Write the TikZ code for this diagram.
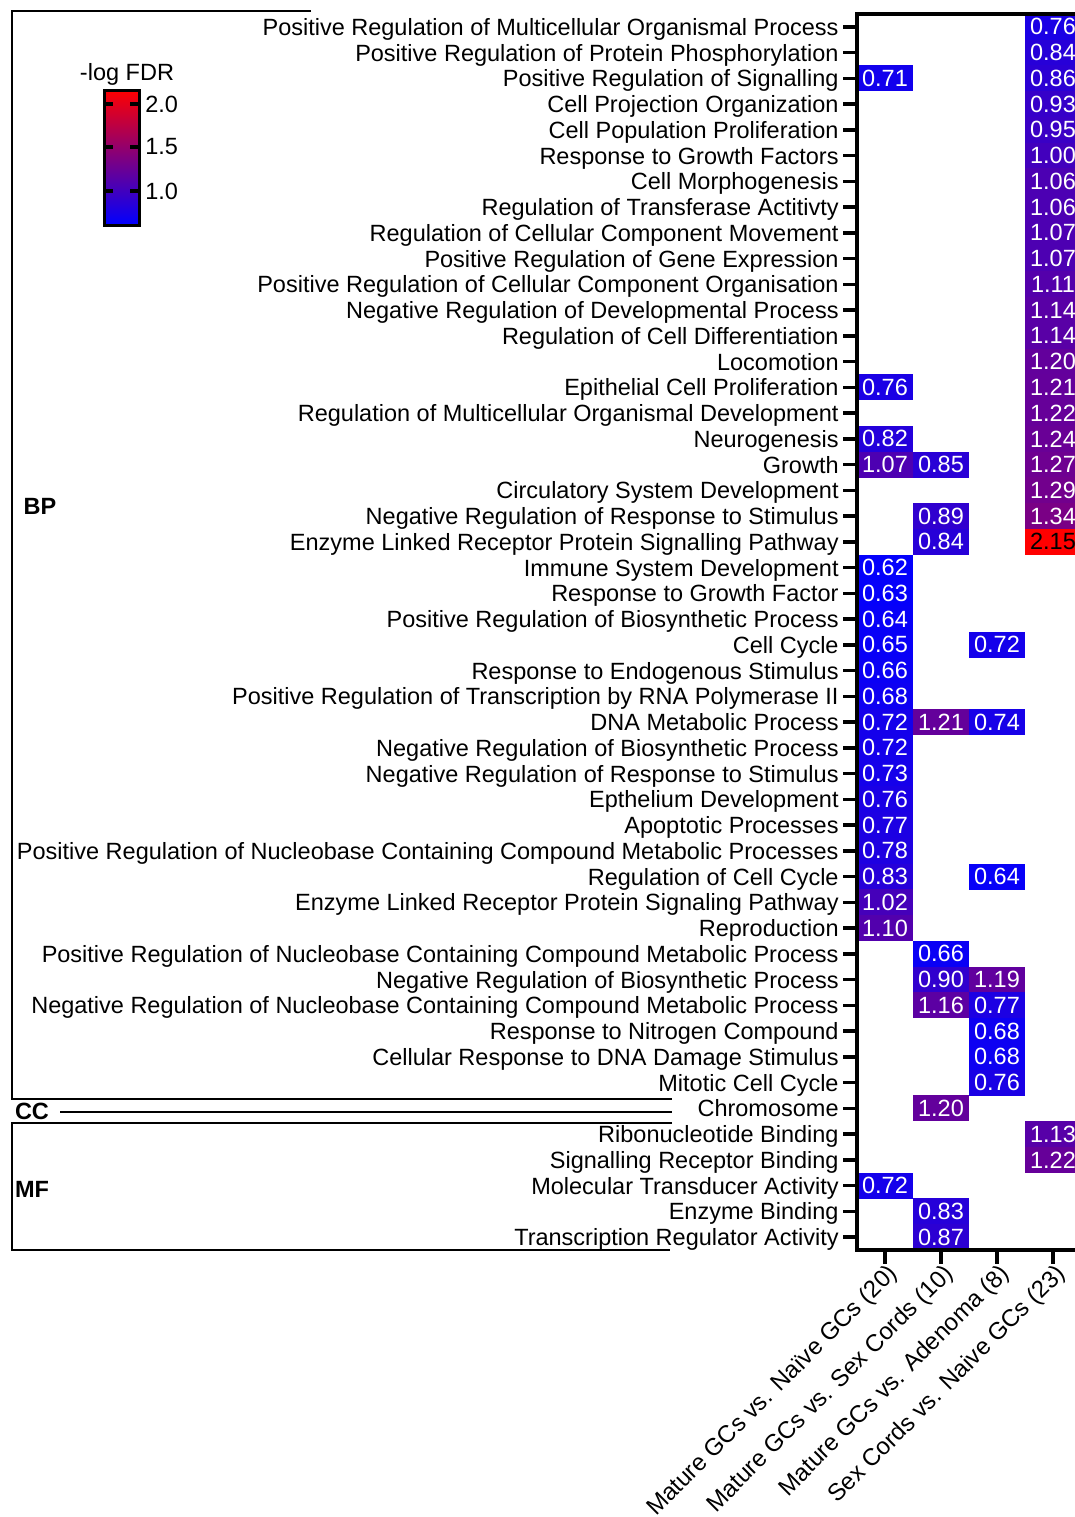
\documentclass[tikz,border=0pt]{standalone}
\usepackage{fontspec}
\setmainfont{Liberation Sans}

\tikzset{
  axisline/.style={line width=2pt},
  tickmark/.style={line width=1.8pt},
  bracket/.style={line width=1.4pt},
  rowlab/.style={anchor=base east, inner sep=0pt, font=\fontsize{11.75}{13}\selectfont},
  cell/.style={minimum width=28pt, minimum height=13.1pt, inner sep=0pt, font=\fontsize{11.75}{13}\selectfont},
  collab/.style={rotate=45, anchor=north east, inner sep=0pt, font=\fontsize{12}{13}\selectfont},
  grplab/.style={inner sep=0pt, font=\fontsize{11.75}{13}\selectfont\bfseries},
  leglab/.style={inner sep=0pt, font=\fontsize{11.75}{13}\selectfont}
}

\begin{document}
\begin{tikzpicture}[x=0.5pt, y=-0.5pt]
  \clip (0,0) rectangle (1075,1517);

  % Zeilenbeschriftungen mit Strichen
  \foreach \lab [count=\i] in {
      Positive Regulation of Multicellular Organismal Process,
      Positive Regulation of Protein Phosphorylation,
      Positive Regulation of Signalling,
      Cell Projection Organization,
      Cell Population Proliferation,
      Response to Growth Factors,
      Cell Morphogenesis,
      Regulation of Transferase Actitivty,
      Regulation of Cellular Component Movement,
      Positive Regulation of Gene Expression,
      Positive Regulation of Cellular Component Organisation,
      Negative Regulation of Developmental Process,
      Regulation of Cell Differentiation,
      Locomotion,
      Epithelial Cell Proliferation,
      Regulation of Multicellular Organismal Development,
      Neurogenesis,
      Growth,
      Circulatory System Development,
      Negative Regulation of Response to Stimulus,
      Enzyme Linked Receptor Protein Signalling Pathway,
      Immune System Development,
      Response to Growth Factor,
      Positive Regulation of Biosynthetic Process,
      Cell Cycle,
      Response to Endogenous Stimulus,
      Positive Regulation of Transcription by RNA Polymerase II,
      DNA Metabolic Process,
      Negative Regulation of Biosynthetic Process,
      Negative Regulation of Response to Stimulus,
      Epthelium Development,
      Apoptotic Processes,
      Positive Regulation of Nucleobase Containing Compound Metabolic Processes,
      Regulation of Cell Cycle,
      Enzyme Linked Receptor Protein Signaling Pathway,
      Reproduction,
      Positive Regulation of Nucleobase Containing Compound Metabolic Process,
      Negative Regulation of Biosynthetic Process,
      Negative Regulation of Nucleobase Containing Compound Metabolic Process,
      Response to Nitrogen Compound,
      Cellular Response to DNA Damage Stimulus,
      Mitotic Cell Cycle,
      Chromosome,
      Ribonucleotide Binding,
      Signalling Receptor Binding,
      Molecular Transducer Activity,
      Enzyme Binding,
      Transcription Regulator Activity}
  {
    \node[rowlab] (r\i) at (839,{14+(\i-0.5)*25.75+8.5}) {\lab};
    \draw[tickmark] (843,{14+(\i-0.5)*25.75}) -- (857,{14+(\i-0.5)*25.75});
  }

  % Zellen der Heatmap (Zeile/Spalte/Wert)
  \foreach \r/\c/\v in {1/4/0.76, 2/4/0.84, 3/1/0.71, 3/4/0.86, 4/4/0.93,
      5/4/0.95, 6/4/1.00, 7/4/1.06, 8/4/1.06, 9/4/1.07, 10/4/1.07,
      11/4/1.11, 12/4/1.14, 13/4/1.14, 14/4/1.20, 15/1/0.76, 15/4/1.21,
      16/4/1.22, 17/1/0.82, 17/4/1.24, 18/1/1.07, 18/2/0.85, 18/4/1.27,
      19/4/1.29, 20/2/0.89, 20/4/1.34, 21/2/0.84, 21/4/2.15,
      22/1/0.62, 23/1/0.63, 24/1/0.64, 25/1/0.65, 25/3/0.72, 26/1/0.66,
      27/1/0.68, 28/1/0.72, 28/2/1.21, 28/3/0.74, 29/1/0.72, 30/1/0.73,
      31/1/0.76, 32/1/0.77, 33/1/0.78, 34/1/0.83, 34/3/0.64, 35/1/1.02,
      36/1/1.10, 37/2/0.66, 38/2/0.90, 38/3/1.19, 39/2/1.16, 39/3/0.77,
      40/3/0.68, 41/3/0.68, 42/3/0.76, 43/2/1.20, 44/4/1.13, 45/4/1.22,
      46/1/0.72, 47/2/0.83, 48/2/0.87}
  {
    \pgfmathsetmacro\mix{(\v-0.6)/1.55*100}
    \pgfmathtruncatemacro\hot{\v>1.9}
    \ifnum\hot=1 \def\tcol{black}\else\def\tcol{white}\fi
    \node[cell, fill=red!\mix!blue, text=\tcol] (v\r-\c)
      at ({885+(\c-1)*56},{14+(\r-0.5)*25.75}) {\v};
  }

  % Achsen
  \draw[axisline] (1075,14) -- (857,14) -- (857,1250) -- (1075,1250);
  \foreach \c in {1,...,4}
    \draw[tickmark, line width=2pt] ({885+(\c-1)*56},1250) -- ({885+(\c-1)*56},1264);

  % Spaltenbeschriftungen
  \foreach \lab [count=\c] in {Mature GCs vs. Naïve GCs (20), Mature GCs vs. Sex Cords (10),
      Mature GCs vs. Adenoma (8), Sex Cords vs. Naive GCs (23)}
    \node[collab] (k\c) at ({886+(\c-1)*56},1262) {\lab};

  % Gruppenklammern BP, CC, MF
  \draw[bracket] (311,11) -- (12,11) -- (12,1099) -- (672,1099);
  \draw[bracket] (60,1112) -- (672,1112);
  \draw[bracket] (672,1123) -- (12,1123) -- (12,1250) -- (670,1250);
  \node[grplab] (bp) at (40,506) {BP};
  \node[grplab] (cc) at (32,1111) {CC};
  \node[grplab] (mf) at (32,1189) {MF};

  % Farbskala
  \node[leglab] (legtitle) at (127,74) {-log FDR};
  \shade[bottom color=blue, top color=red] (104,90) rectangle (139,225);
  \draw[line width=1.5pt] (104,90) rectangle (139,225);
  \foreach \y/\t in {104/2.0, 147/1.5, 191/1.0} {
    \draw[line width=2pt] (104,\y) -- (113,\y);
    \draw[line width=2pt] (130,\y) -- (139,\y);
    \node[leglab, anchor=west] (leg\t) at (145,\y) {\t};
  }
\end{tikzpicture}
\end{document}
